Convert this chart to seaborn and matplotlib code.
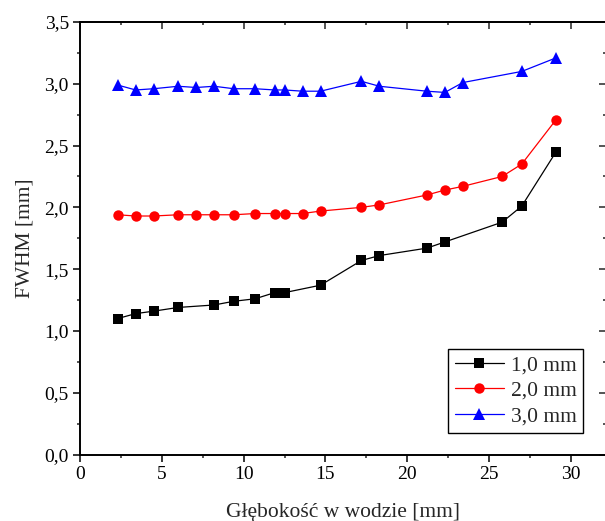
import pandas as pd
import numpy as np
import matplotlib
matplotlib.use("Agg")
import matplotlib.pyplot as plt
import seaborn as sns
from matplotlib.ticker import MultipleLocator, FuncFormatter

# Depth in water [mm] and FWHM [mm] for three field sizes
depth_1 = [2.3, 3.4, 4.5, 6.0, 8.2, 9.4, 10.7, 11.9, 12.5, 14.7, 17.2, 18.3, 21.2, 22.3, 25.8, 27.0, 29.1]
fwhm_1 = [1.10, 1.14, 1.16, 1.19, 1.21, 1.24, 1.26, 1.31, 1.31, 1.37, 1.57, 1.61, 1.67, 1.72, 1.88, 2.01, 2.45]

depth_2 = [2.3, 3.4, 4.5, 6.0, 7.1, 8.2, 9.4, 10.7, 11.9, 12.5, 13.6, 14.7, 17.2, 18.3, 21.2, 22.3, 23.4, 25.8, 27.0, 29.1]
fwhm_2 = [1.94, 1.93, 1.93, 1.94, 1.94, 1.94, 1.94, 1.95, 1.95, 1.95, 1.95, 1.97, 2.00, 2.02, 2.10, 2.14, 2.17, 2.25, 2.35, 2.71]

depth_3 = [2.3, 3.4, 4.5, 6.0, 7.1, 8.2, 9.4, 10.7, 11.9, 12.5, 13.6, 14.7, 17.2, 18.3, 21.2, 22.3, 23.4, 27.0, 29.1]
fwhm_3 = [2.99, 2.95, 2.96, 2.98, 2.97, 2.98, 2.96, 2.96, 2.95, 2.95, 2.94, 2.94, 3.02, 2.98, 2.94, 2.93, 3.01, 3.10, 3.21]

labels = ["1,0 mm", "2,0 mm", "3,0 mm"]
colors = {"1,0 mm": "black", "2,0 mm": "red", "3,0 mm": "blue"}
markers = {"1,0 mm": "s", "2,0 mm": "o", "3,0 mm": "^"}

df = pd.concat([
    pd.DataFrame({"depth": depth_1, "fwhm": fwhm_1, "size": labels[0]}),
    pd.DataFrame({"depth": depth_2, "fwhm": fwhm_2, "size": labels[1]}),
    pd.DataFrame({"depth": depth_3, "fwhm": fwhm_3, "size": labels[2]}),
], ignore_index=True)

sns.set_style("white")
plt.rcParams["font.family"] = ["Liberation Serif", "DejaVu Serif"]

fig = plt.figure(figsize=(6.05, 5.21), dpi=100)
ax = fig.add_axes([80 / 605, (521 - 454.5) / 521, 526 / 605, 432.5 / 521])

sns.lineplot(data=df, x="depth", y="fwhm", hue="size", style="size",
             palette=colors, markers=markers, dashes=False,
             markersize=7.5, markeredgewidth=0, linewidth=0.9, ax=ax)

# triangles look smaller at the same size
for ln in ax.lines:
    if ln.get_marker() == "^":
        ln.set_markersize(9)

ax.set_xlim(0, 32.15)
ax.set_ylim(0, 3.5)

ax.xaxis.set_major_locator(MultipleLocator(5))
ax.xaxis.set_minor_locator(MultipleLocator(2.5))
ax.xaxis.set_major_formatter(FuncFormatter(lambda v, p: f"{v:.0f}"))
ax.yaxis.set_major_locator(MultipleLocator(0.5))
ax.yaxis.set_minor_locator(MultipleLocator(0.25))
ax.yaxis.set_major_formatter(FuncFormatter(lambda v, p: f"{v:.1f}".replace(".", ",")))

ax.tick_params(which="major", direction="out", length=5, width=1.1, labelsize=14,
               bottom=True, left=True, colors="black", pad=3)
ax.tick_params(which="minor", direction="out", length=2.5, width=1.1,
               bottom=True, left=True)

# mirrored ticks on top and right, pointing inward
top = ax.secondary_xaxis("top")
top.xaxis.set_major_locator(MultipleLocator(5))
top.xaxis.set_minor_locator(MultipleLocator(2.5))
top.tick_params(which="major", direction="in", length=5, width=1.1, labeltop=False)
top.tick_params(which="minor", direction="in", length=2.5, width=1.1)
right = ax.secondary_yaxis("right")
right.yaxis.set_major_locator(MultipleLocator(0.5))
right.yaxis.set_minor_locator(MultipleLocator(0.25))
right.tick_params(which="major", direction="in", length=5, width=1.1, labelright=False)
right.tick_params(which="minor", direction="in", length=2.5, width=1.1)

for sp in ax.spines.values():
    sp.set_color("black")
    sp.set_linewidth(1.4)
top.spines["top"].set_linewidth(1.4)

ax.set_xlabel("Głębokość w wodzie [mm]", fontsize=15.5, labelpad=15)
ax.set_ylabel("FWHM [mm]", fontsize=15.5, labelpad=7)

leg = ax.legend(loc="lower right", bbox_to_anchor=(0.956, 0.05), fontsize=15.5,
                frameon=True, fancybox=False, edgecolor="black", framealpha=1,
                handlelength=2.3, borderpad=0.3, labelspacing=0.25, handletextpad=0.3,
                borderaxespad=0)
leg.get_frame().set_linewidth(1.0)

fig.savefig("out.png", dpi=100)
